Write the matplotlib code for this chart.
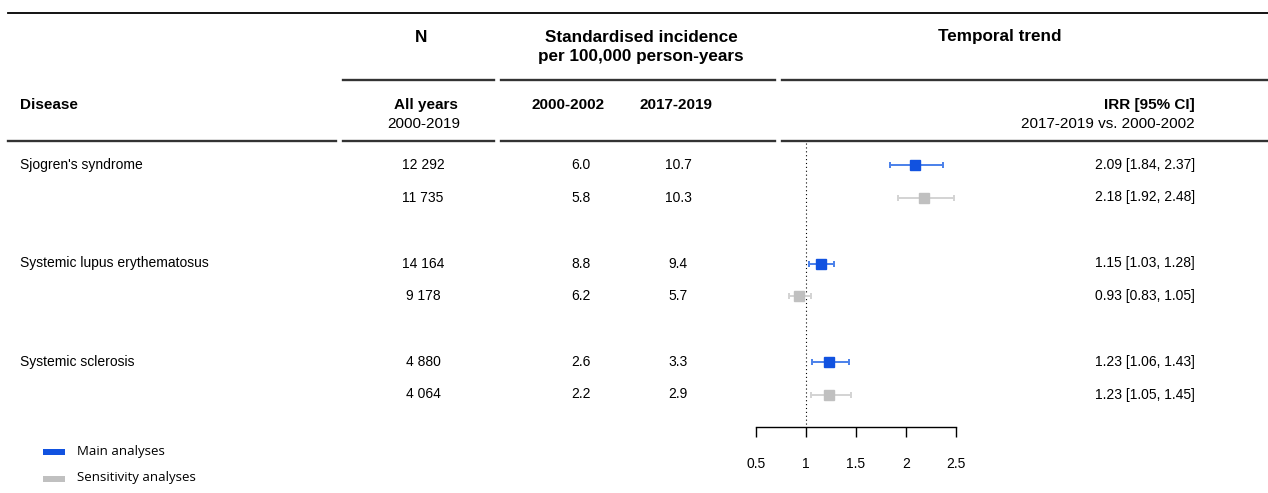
import matplotlib
matplotlib.use("Agg")
import matplotlib.pyplot as plt
from matplotlib.patches import Rectangle

# ---------------- data ----------------
diseases = ["Sjogren's syndrome", "Systemic lupus erythematosus", "Systemic sclerosis"]
n_main = ["12 292", "14 164", "4 880"]
n_sens = ["11 735", "9 178", "4 064"]
inc0002_main = [6.0, 8.8, 2.6]
inc0002_sens = [5.8, 6.2, 2.2]
inc1719_main = [10.7, 9.4, 3.3]
inc1719_sens = [10.3, 5.7, 2.9]
irr_main = [2.09, 1.15, 1.23]
lo_main = [1.84, 1.03, 1.06]
hi_main = [2.37, 1.28, 1.43]
irr_sens = [2.18, 0.93, 1.23]
lo_sens = [1.92, 0.83, 1.05]
hi_sens = [2.48, 1.05, 1.45]
xticks = [0.5, 1, 1.5, 2, 2.5]
legend_labels = ["Main analyses", "Sensitivity analyses"]

BLUE = "#1152e0"
BLUE_L = "#4a80ea"
GRAY = "#c0c0c0"
GRAY_L = "#d3d3d3"

W, H = 1268, 493
fig = plt.figure(figsize=(W / 100, H / 100), dpi=100)
ax = fig.add_axes([0, 0, 1, 1])
ax.set_xlim(0, W)
ax.set_ylim(H, 0)
ax.axis("off")

FONT = "Liberation Sans"
FS = 10
FS_SUB = 11
FS_TOP = 12.3

def t(x, y, s, ha="center", bold=False, fs=FS, family=FONT):
    ax.text(x, y, s, ha=ha, va="center", fontsize=fs,
            fontweight="bold" if bold else "normal", family=family)

# ---------------- rules ----------------
lw = 1.3
ax.plot([8, W], [13, 13], color="black", lw=lw)
for x0, x1 in [(343, 494), (501, 775), (782, W)]:
    ax.plot([x0, x1], [80, 80], color="#333333", lw=lw * 1.3)
for x0, x1 in [(8, 336), (343, 494), (501, 775), (782, W)]:
    ax.plot([x0, x1], [141, 141], color="#333333", lw=lw * 1.3)

# ---------------- headers ----------------
t(421, 37, "N", bold=True, fs=FS_TOP)
t(641, 37, "Standardised incidence", bold=True, fs=FS_TOP)
t(641, 57, "per 100,000 person-years", bold=True, fs=FS_TOP)
t(1000, 37, "Temporal trend", bold=True, fs=FS_TOP)
t(20, 105, "Disease", ha="left", bold=True, fs=FS_SUB)
t(426, 105, "All years", bold=True, fs=FS_SUB)
t(424, 124, "2000-2019", fs=FS_SUB)
t(568, 105, "2000-2002", bold=True, fs=FS_SUB)
t(676, 105, "2017-2019", bold=True, fs=FS_SUB)
t(1195, 105, "IRR [95% CI]", ha="right", bold=True, fs=FS_SUB)
t(1195, 124, "2017-2019 vs. 2000-2002", ha="right", fs=FS_SUB)

# ---------------- rows ----------------
top, gstep, sstep = 165, 98.5, 32.5
rows_y_main = [top + g * gstep for g in range(len(diseases))]
rows_y_sens = [y + sstep for y in rows_y_main]

for i, name in enumerate(diseases):
    ym, ys = rows_y_main[i], rows_y_sens[i]
    t(20, ym, name, ha="left")
    t(423, ym, n_main[i])
    t(423, ys, n_sens[i])
    t(581, ym, f"{inc0002_main[i]:.1f}")
    t(581, ys, f"{inc0002_sens[i]:.1f}")
    t(678, ym, f"{inc1719_main[i]:.1f}")
    t(678, ys, f"{inc1719_sens[i]:.1f}")
    t(1195, ym, f"{irr_main[i]:.2f} [{lo_main[i]:.2f}, {hi_main[i]:.2f}]", ha="right")
    t(1195, ys, f"{irr_sens[i]:.2f} [{lo_sens[i]:.2f}, {hi_sens[i]:.2f}]", ha="right")

# ---------------- forest axes ----------------
fx0, fx1 = 756, 956
fa = fig.add_axes([fx0 / W, 0, (fx1 - fx0) / W, 1])
fa.set_xlim(xticks[0], xticks[-1])
fa.set_ylim(H, 0)
fa.patch.set_alpha(0)
for s in ["top", "left", "right"]:
    fa.spines[s].set_visible(False)
fa.spines["bottom"].set_position(("data", 427))
fa.spines["bottom"].set_linewidth(1.0)
fa.set_yticks([])
fa.set_xticks(xticks)
fa.set_xticklabels([f"{v:g}" for v in xticks], family=FONT, fontsize=FS)
fa.tick_params(axis="x", direction="out", length=7.5, width=1.0, pad=14)

fa.vlines(1, 143, 427, colors="black", linestyles=(0, (1, 2.5)), lw=0.8)

def forest(vals, lo, hi, ys, lc, mc):
    xerr = [[v - l for v, l in zip(vals, lo)], [h - v for v, h in zip(vals, hi)]]
    fa.errorbar(vals, ys, xerr=xerr, fmt="s", color=lc, ecolor=lc, elinewidth=1.4,
                capsize=2, capthick=1.4, markersize=6.5, markerfacecolor=mc,
                markeredgecolor=mc, clip_on=False, zorder=3)

forest(irr_main, lo_main, hi_main, rows_y_main, BLUE_L, BLUE)
forest(irr_sens, lo_sens, hi_sens, rows_y_sens, GRAY_L, GRAY)

# ---------------- legend ----------------
for k, (lab, col) in enumerate(zip(legend_labels, [BLUE, GRAY])):
    yy = 452 + k * 27
    ax.add_patch(Rectangle((43, yy - 3), 22, 6, color=col, lw=0))
    t(77, yy - 1, lab, ha="left", fs=9.5, family="Open Sans")

fig.savefig("out.png", dpi=100)
